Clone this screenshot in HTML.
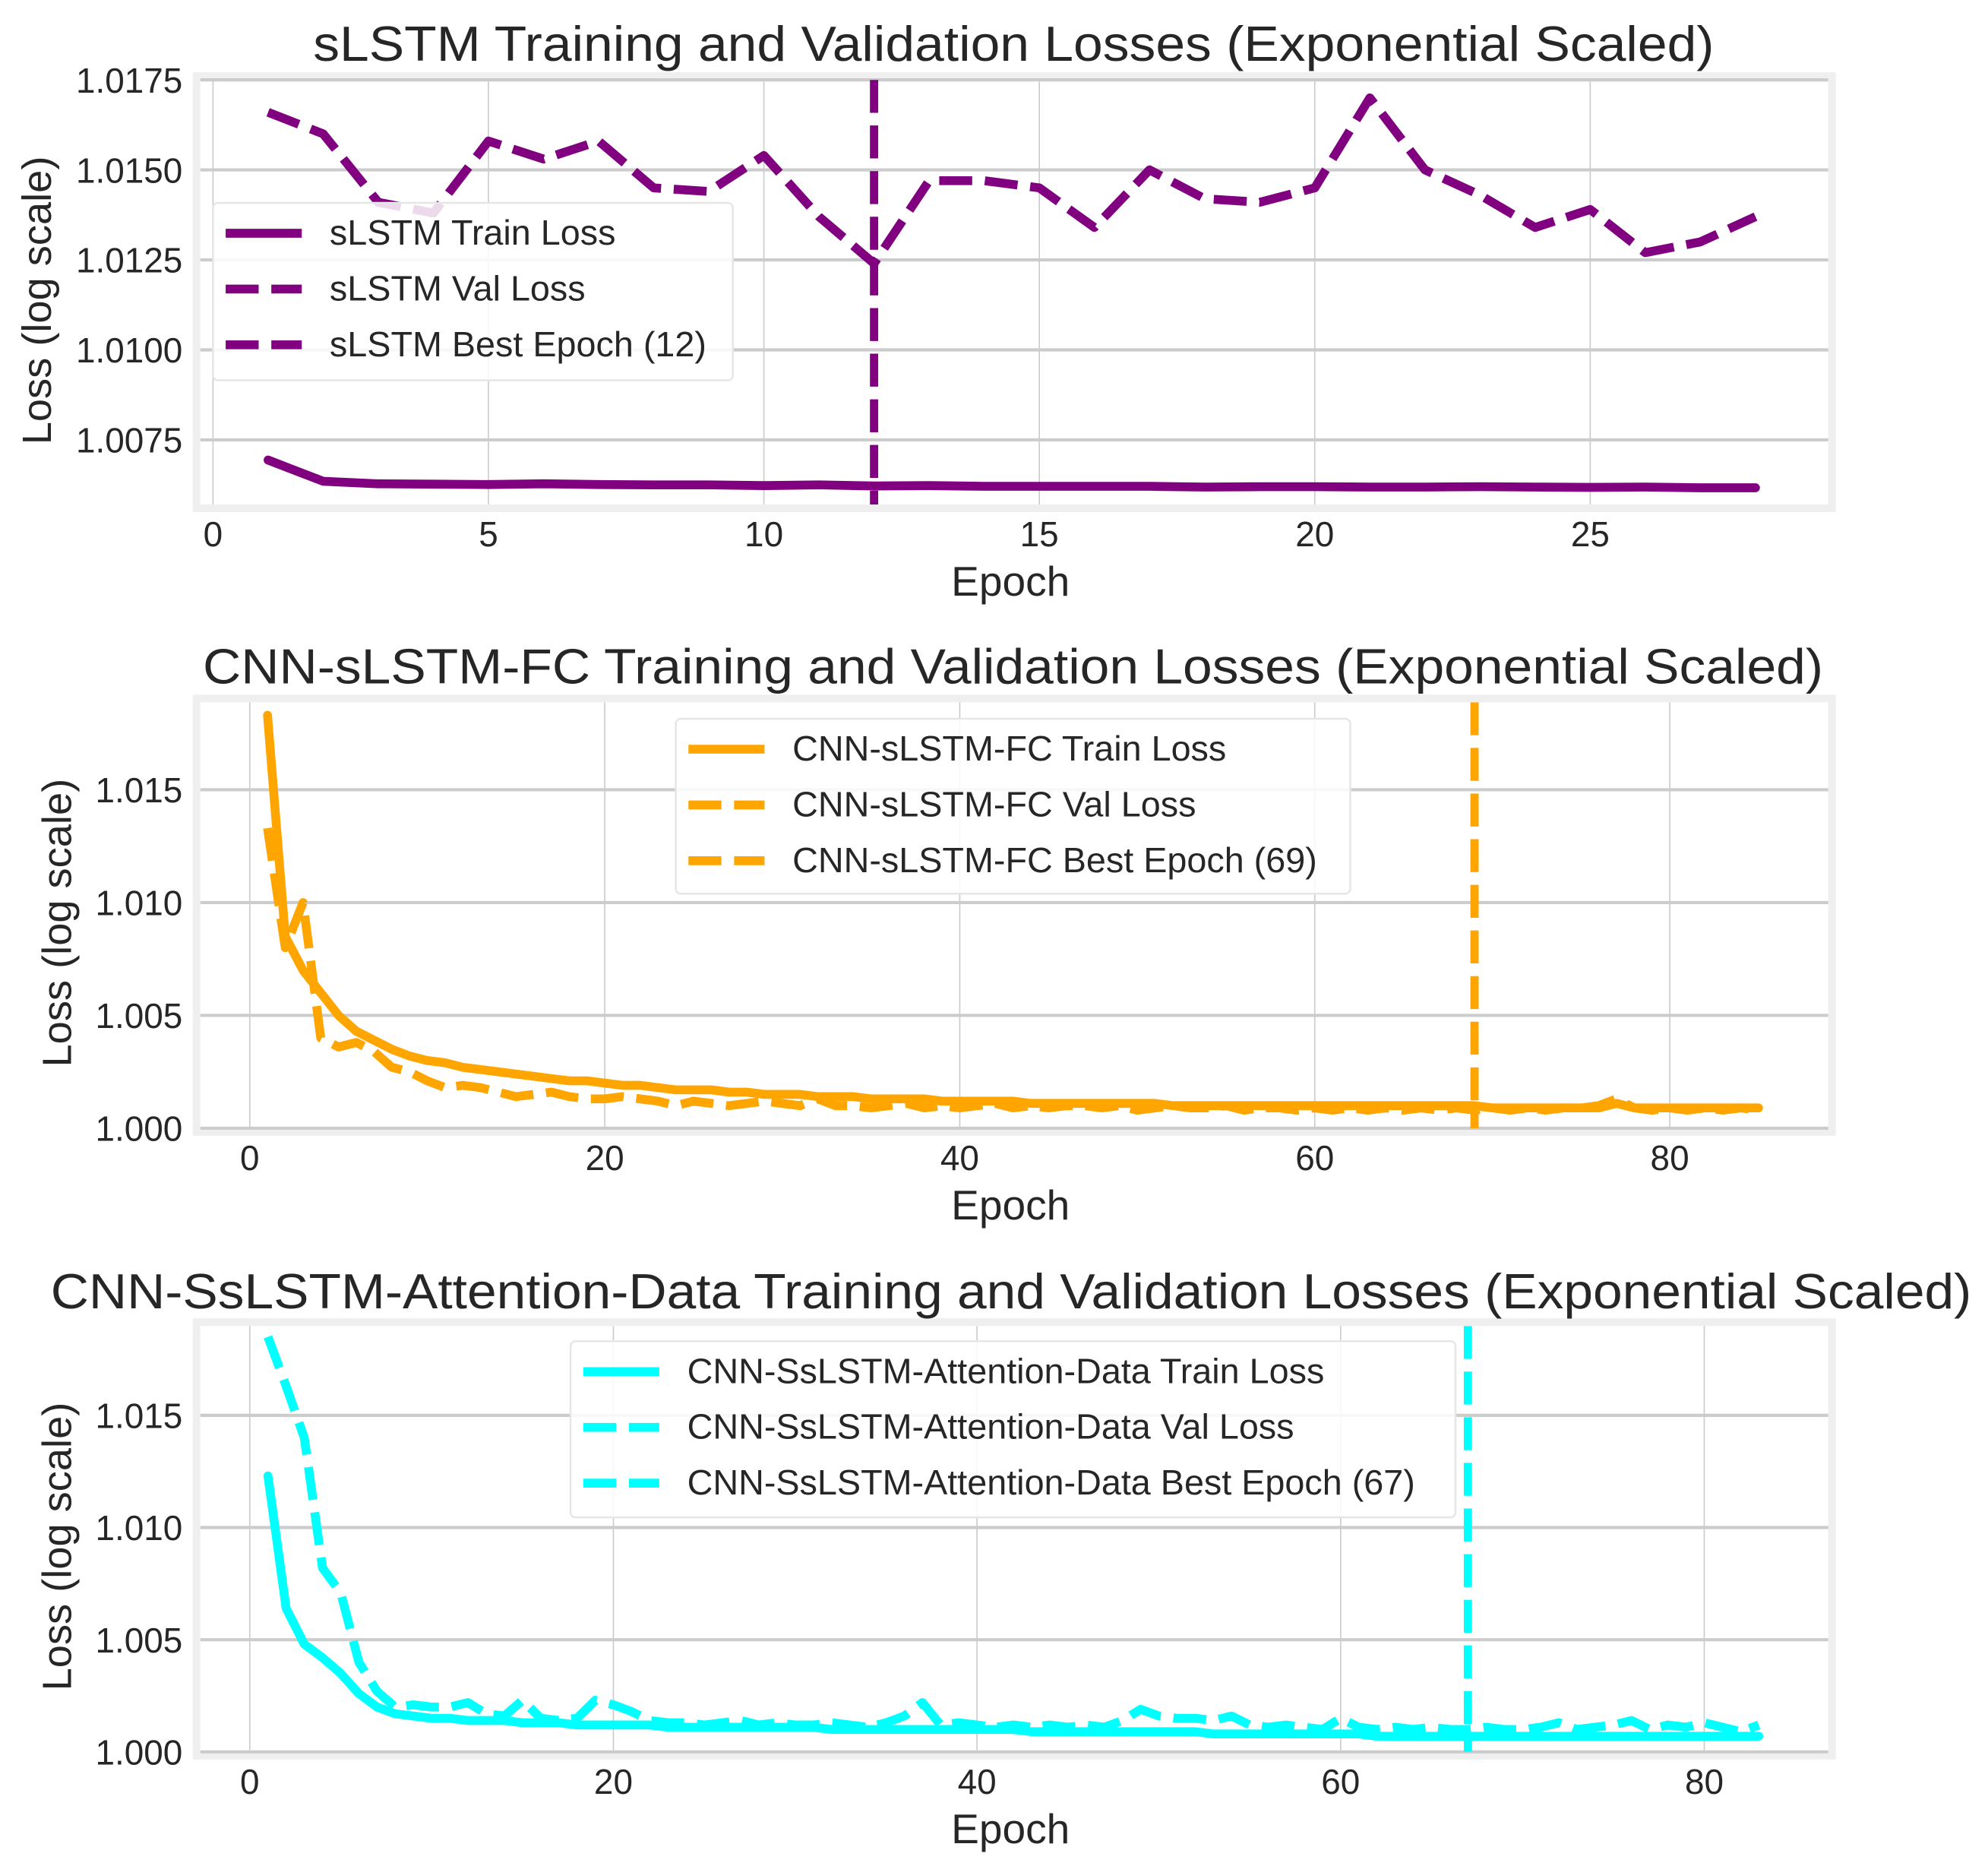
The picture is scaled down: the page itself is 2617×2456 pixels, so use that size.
<!DOCTYPE html>
<html><head><meta charset="utf-8"><style>
html,body{margin:0;padding:0;background:#fff;}
svg{display:block;font-family:"Liberation Sans",Arial,sans-serif;}
</style></head><body>
<svg id="fig" width="2617" height="2456" viewBox="0 0 1568 1472" preserveAspectRatio="none" xmlns="http://www.w3.org/2000/svg"></svg>
<script>
// ---- sLSTM data ----
const sEpochs = [1,2,3,4,5,6,7,8,9,10,11,12,13,14,15,16,17,18,19,20,21,22,23,24,25,26,27,28];
const sTrain = [1.00694,1.00635,1.00628,1.00627,1.00626,1.00628,1.00626,1.00625,1.00625,1.00623,1.00625,1.00622,1.00623,1.00621,1.00621,1.00621,1.00621,1.00619,1.0062,1.0062,1.00619,1.00619,1.0062,1.00619,1.00618,1.00619,1.00617,1.00617];
const sVal = [1.0166,1.0160,1.0141,1.0138,1.0158,1.0153,1.0158,1.0145,1.0144,1.0154,1.0137,1.0124,1.0147,1.0147,1.0145,1.0134,1.0150,1.0142,1.0141,1.0145,1.0170,1.0150,1.0143,1.0134,1.0139,1.0127,1.0130,1.0137];
const sBest = 12;
const sYTicks = [1.0075,1.0100,1.0125,1.0150,1.0175];
const sYLabels = ["1.0075","1.0100","1.0125","1.0150","1.0175"];
const sXTicks = [0,5,10,15,20,25];

// ---- CNN-sLSTM-FC data ----
const cTrain = [1.0183,1.0085,1.0070,1.0060,1.0050,1.0043,1.0039,1.0035,1.0032,1.0030,1.0029,1.0027,1.0026,1.0025,1.0024,1.0023,1.0022,1.0021,1.0021,1.0020,1.0019,1.0019,1.0018,1.0017,1.0017,1.0017,1.0016,1.0016,1.0015,1.0015,1.0015,1.0014,1.0014,1.0014,1.0013,1.0013,1.0013,1.0013,1.0012,1.0012,1.0012,1.0012,1.0012,1.0011,1.0011,1.0011,1.0011,1.0011,1.0011,1.0011,1.0011,1.0010,1.0010,1.0010,1.0010,1.0010,1.0010,1.0010,1.0010,1.0010,1.0010,1.0010,1.0010,1.0010,1.0010,1.0010,1.0010,1.0010,1.0010,1.0009,1.0009,1.0009,1.0009,1.0009,1.0009,1.0009,1.0011,1.0009,1.0009,1.0009,1.0009,1.0009,1.0009,1.0009,1.0009];
const cVal = [1.0133,1.0080,1.0100,1.0040,1.0036,1.0038,1.0034,1.0027,1.0025,1.0021,1.0018,1.0019,1.0018,1.0016,1.0014,1.0015,1.0016,1.0014,1.0013,1.0013,1.0014,1.0013,1.0012,1.0010,1.0012,1.0011,1.0010,1.0011,1.0012,1.0011,1.0010,1.0013,1.0010,1.0010,1.0009,1.0010,1.0011,1.0009,1.0010,1.0009,1.0010,1.0011,1.0009,1.0010,1.0009,1.0010,1.0010,1.0009,1.0010,1.0008,1.0009,1.0010,1.0009,1.0009,1.0010,1.0008,1.0009,1.0009,1.0008,1.0009,1.0008,1.0009,1.0008,1.0009,1.0008,1.0009,1.0008,1.0009,1.0008,1.0009,1.0008,1.0009,1.0008,1.0009,1.0009,1.0010,1.0013,1.0009,1.0008,1.0009,1.0008,1.0009,1.0008,1.0009,1.0008];
const cBest = 69;
const cYTicks = [1.000,1.005,1.010,1.015];
const cYLabels = ["1.000","1.005","1.010","1.015"];
const cXTicks = [0,20,40,60,80];

// ---- CNN-SsLSTM-Attention-Data data ----
const aTrain = [1.0123,1.0064,1.0048,1.0042,1.0035,1.0026,1.0020,1.0017,1.0016,1.0015,1.0015,1.0014,1.0014,1.0014,1.0013,1.0013,1.0013,1.0012,1.0012,1.0012,1.0012,1.0012,1.0011,1.0011,1.0011,1.0011,1.0011,1.0011,1.0011,1.0011,1.0011,1.0010,1.0010,1.0010,1.0010,1.0010,1.0010,1.0010,1.0010,1.0010,1.0010,1.0010,1.0009,1.0009,1.0009,1.0009,1.0009,1.0009,1.0009,1.0009,1.0009,1.0009,1.0008,1.0008,1.0008,1.0008,1.0008,1.0008,1.0008,1.0008,1.0008,1.0007,1.0007,1.0007,1.0007,1.0007,1.0007,1.0007,1.0007,1.0007,1.0007,1.0007,1.0007,1.0007,1.0007,1.0007,1.0007,1.0007,1.0007,1.0007,1.0007,1.0007,1.0007];
const aVal = [1.0185,1.0163,1.0140,1.0082,1.0071,1.0040,1.0027,1.0020,1.0021,1.0020,1.0020,1.0022,1.0017,1.0016,1.0023,1.0015,1.0014,1.0015,1.0023,1.0021,1.0018,1.0014,1.0013,1.0013,1.0012,1.0013,1.0014,1.0012,1.0013,1.0012,1.0012,1.0013,1.0012,1.0011,1.0013,1.0016,1.0022,1.0012,1.0013,1.0012,1.0011,1.0012,1.0011,1.0012,1.0011,1.0012,1.0011,1.0014,1.0019,1.0016,1.0015,1.0015,1.0014,1.0016,1.0012,1.0011,1.0012,1.0011,1.0010,1.0015,1.0011,1.0010,1.0011,1.0010,1.0011,1.0010,1.0010,1.0011,1.0010,1.0010,1.0011,1.0013,1.0010,1.0011,1.0012,1.0014,1.0010,1.0012,1.0011,1.0013,1.0011,1.0009,1.0012];
const aBest = 67;
const aYTicks = [1.000,1.005,1.010,1.015];
const aYLabels = ["1.000","1.005","1.010","1.015"];
const aXTicks = [0,20,40,60,80];

const NS = "http://www.w3.org/2000/svg";
const fig = document.getElementById('fig');
function mk(tag, attrs, parent, text){
  const e = document.createElementNS(NS, tag);
  for (const k in attrs) e.setAttribute(k, attrs[k]);
  if (text !== undefined) e.textContent = text;
  (parent || fig).appendChild(e);
  return e;
}

function panel(cfg){
  const g = mk('g', {});
  
  
  const L = cfg.left, R = cfg.right, T = cfg.top, B = cfg.bottom;
  const xs = v => cfg.x0px + (v - 0) * cfg.xpx;
  const ys = v => cfg.yRefPx - (v - cfg.yRef) * cfg.ypx;
  const fr = mk('rect', {x:L-6, y:T-6, width:R-L+12, height:B-T+12, fill:'#efefef'}, g);
  
  
  const bg = mk('rect', {x:L, y:T, width:R-L, height:B-T, fill:'#ffffff'}, g);
  
  
  cfg.xTicks.forEach(t => {
    const x = xs(t);
    const gl = mk('line', {x1:x, x2:x, y1:T, y2:B, stroke:'#cccccc', 'stroke-width':1}, g);
    
    
    const tl = mk('text', {x:x, y:B+33, 'font-size':27.5, fill:'#262626', 'text-anchor':'middle'}, g, String(t));
    
    
  });
  cfg.yTicks.forEach((t, i) => {
    const y = ys(t);
    const gl = mk('line', {x1:L, x2:R, y1:y, y2:y, stroke:'#cccccc', 'stroke-width':2.5}, g);
    
    
    const tl = mk('text', {x:144, y:y+10, 'font-size':27.5, fill:'#262626', 'text-anchor':'end'}, g, cfg.yLabels[i]);
    
    
  });
  const cp = mk('clipPath', {id: cfg.name + '-clip'}, g);
  mk('rect', {x:L, y:T, width:R-L, height:B-T}, cp);
  const plot = mk('g', {'clip-path':'url(#' + cfg.name + '-clip)'}, g);
  function path(vals, dash, nm){
    const d = vals.map((v, i) => (i ? 'L' : 'M') + xs(i+1).toFixed(2) + ',' + ys(v).toFixed(2)).join(' ');
    const p = mk('path', {d:d, fill:'none', stroke:cfg.color, 'stroke-width':7, 'stroke-linejoin':'round', 'stroke-linecap': dash ? 'butt' : 'round'}, plot);
    if (dash) p.setAttribute('stroke-dasharray', '26 10');
    
    
  }
  path(cfg.train, false, 'train-loss-line');
  path(cfg.val, true, 'val-loss-line');
  const bx = xs(cfg.best);
  const bl = mk('line', {x1:bx, x2:bx, y1:T, y2:B, stroke:cfg.color, 'stroke-width':6.5, 'stroke-dasharray':'26 10'}, plot);
  
  
  const ti = mk('text', {x:cfg.titleX, y:cfg.titleY, 'font-size':39, fill:'#262626', textLength:cfg.titleW, lengthAdjust:'spacingAndGlyphs'}, g, cfg.title);
  
  
  const xl = mk('text', {x:797, y:B+72, 'font-size':33, fill:'#262626', 'text-anchor':'middle'}, g, 'Epoch');
  
  
  const yl = mk('text', {x:0, y:0, 'font-size':32.5, fill:'#262626', 'text-anchor':'middle', transform:'translate(' + cfg.ylabX + ',' + cfg.ylabY + ') rotate(-90)'}, g, 'Loss (log scale)');
  
  
  const lg = mk('g', {}, g);
  
  
  const lb = cfg.legend;
  mk('rect', {x:lb.x, y:lb.y, width:lb.w, height:lb.h, rx:4, fill:'#ffffff', 'fill-opacity':0.85, stroke:'#e6e6e6', 'stroke-width':1.5}, lg);
  const labels = [cfg.prefix + ' Train Loss', cfg.prefix + ' Val Loss', cfg.prefix + ' Best Epoch (' + cfg.best + ')'];
  labels.forEach((s, i) => {
    const yy = lb.y + 33 + i*44;
    const ln = mk('line', {x1:lb.x+10, x2:lb.x+70, y1:yy-9, y2:yy-9, stroke:cfg.color, 'stroke-width':7}, lg);
    if (i > 0) ln.setAttribute('stroke-dasharray', '26 10');
    
    
    const tx = mk('text', {x:lb.x+92, y:yy, 'font-size':28, fill:'#262626'}, lg, s);
    
    
  });
}

panel({name:'slstm', prefix:'sLSTM', color:'#800080', left:158, right:1442, top:63, bottom:398,
  x0px:168, xpx:43.45, yRef:1.0175, yRefPx:63, ypx:71/0.0025,
  xTicks:sXTicks, yTicks:sYTicks, yLabels:sYLabels, train:sTrain, val:sVal, best:sBest,
  title:'sLSTM Training and Validation Losses (Exponential Scaled)', titleX:247, titleY:48, titleW:1105,
  ylabX:40, ylabY:237, legend:{x:168, y:160, w:410, h:140}});

panel({name:'cnn-slstm-fc', prefix:'CNN-sLSTM-FC', color:'#FFA500', left:158, right:1442, top:554, bottom:890,
  x0px:197, xpx:14.0, yRef:1.000, yRefPx:890, ypx:89/0.005,
  xTicks:cXTicks, yTicks:cYTicks, yLabels:cYLabels, train:cTrain, val:cVal, best:cBest,
  title:'CNN-sLSTM-FC Training and Validation Losses (Exponential Scaled)', titleX:160, titleY:539, titleW:1278,
  ylabX:56, ylabY:728, legend:{x:533, y:567, w:532, h:138}});

panel({name:'cnn-sslstm-attention', prefix:'CNN-SsLSTM-Attention-Data', color:'#00FFFF', left:158, right:1442, top:1046, bottom:1382,
  x0px:197, xpx:14.34, yRef:1.000, yRefPx:1382, ypx:88.5/0.005,
  xTicks:aXTicks, yTicks:aYTicks, yLabels:aYLabels, train:aTrain, val:aVal, best:aBest,
  title:'CNN-SsLSTM-Attention-Data Training and Validation Losses (Exponential Scaled)', titleX:40, titleY:1032, titleW:1515,
  ylabX:56, ylabY:1220, legend:{x:450, y:1058, w:698, h:139}});
</script>
</body></html>
